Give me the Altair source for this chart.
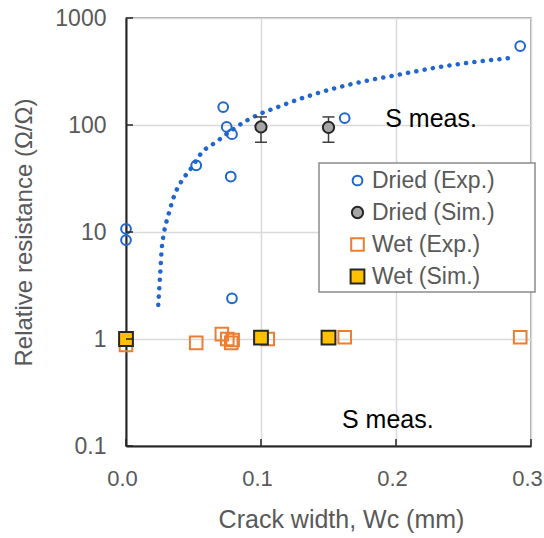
import altair as alt
import pandas as pd

# ---- data ----
series_names = ["Dried (Exp.)", "Dried (Sim.)", "Wet (Exp.)", "Wet (Sim.)"]

dried_exp_x = [0.0, 0.0, 0.052, 0.072, 0.0746, 0.0785, 0.0776, 0.0785, 0.162, 0.292]
dried_exp_y = [10.7, 8.4, 42, 147, 96, 82, 33, 2.4, 116, 547]

dried_sim_x = [0.1, 0.15]
dried_sim_y = [96, 95]
dried_sim_lo = [69, 69]
dried_sim_hi = [119, 119]

wet_exp_x = [0.0, 0.052, 0.071, 0.075, 0.078, 0.079, 0.105, 0.162, 0.292]
wet_exp_y = [0.88, 0.92, 1.11, 1.0, 0.92, 0.98, 1.0, 1.04, 1.04]

wet_sim_x = [0.0, 0.1, 0.15]
wet_sim_y = [1.0, 1.03, 1.03]

trend_x = [0.0239, 0.0252, 0.0264, 0.0281, 0.0314, 0.035, 0.0412, 0.0474, 0.056,
           0.0672, 0.077, 0.0894, 0.0993, 0.1116, 0.136, 0.173, 0.198, 0.235, 0.288]
trend_y = [2.08, 3.82, 6.8, 9.8, 14.4, 20.6, 30, 38, 55,
           70, 87, 110, 127, 146, 188, 251, 289, 353, 427]

note_text = ["S meas.", "S meas."]
note_x = [0.192, 0.160]
note_y = [96, 0.147]

x_ticks = [0.0, 0.1, 0.2, 0.3]
y_ticks = [0.1, 1, 10, 100, 1000]

# ---- tables ----
rows = []
for name, xs, ys in [
    (series_names[0], dried_exp_x, dried_exp_y),
    (series_names[1], dried_sim_x, dried_sim_y),
    (series_names[2], wet_exp_x, wet_exp_y),
    (series_names[3], wet_sim_x, wet_sim_y),
]:
    for xv, yv in zip(xs, ys):
        rows.append({"x": xv, "y": yv, "series": name})
pts = pd.DataFrame(rows)
trend = pd.DataFrame({"x": trend_x, "y": trend_y})
err = pd.DataFrame({"x": dried_sim_x, "lo": dried_sim_lo, "hi": dried_sim_hi})
notes = pd.DataFrame({"x": note_x, "y": note_y, "t": note_text})
xt = pd.DataFrame({"v": x_ticks})
yt = pd.DataFrame({"v": y_ticks})

FONT = "Liberation Sans"
GREY = "#595959"
W, H = 405, 428

xscale = alt.Scale(domain=[0, 0.3], nice=False, zero=False)
yscale = alt.Scale(type="log", domain=[0.1, 1000], nice=False)

xenc = alt.X("x:Q", scale=xscale, axis=alt.Axis(
    values=x_ticks, format=".1f", title="Crack width,  Wc (mm)",
    labelPadding=22, titlePadding=18, labelFlush=False, labelOffset=-4,
    titleX=215, titleAlign="center", titleFontSize=25))
yenc = alt.Y("y:Q", scale=yscale, axis=alt.Axis(
    values=y_ticks, format="~g", title="Relative  resistance (Ω/Ω)",
    labelPadding=20, titlePadding=18, labelFlush=False, labelFontSize=23))

# legend frame (drawn behind the legend entries)
legend_box = alt.Chart(pd.DataFrame({"k": [0]})).mark_rect(
    fill="white", stroke="#8C8C8C", strokeWidth=1.5
).encode(x=alt.value(193), x2=alt.value(409), y=alt.value(145), y2=alt.value(274))

trend_layer = alt.Chart(trend).mark_line(
    color="#1F66D1", strokeWidth=4.5, strokeDash=[0.1, 8.3], strokeCap="round",
    interpolate="monotone"
).encode(x=xenc, y=yenc)

err_rule = alt.Chart(err).mark_rule(color="#404040", strokeWidth=1.5).encode(
    x=alt.X("x:Q", scale=xscale), y=alt.Y("lo:Q", scale=yscale), y2="hi:Q")
err_cap_hi = alt.Chart(err).mark_rule(color="#404040", strokeWidth=1.5, xOffset=-6, x2Offset=6).encode(
    x=alt.X("x:Q", scale=xscale), x2="x:Q", y=alt.Y("hi:Q", scale=yscale))
err_cap_lo = alt.Chart(err).mark_rule(color="#404040", strokeWidth=1.5, xOffset=-6, x2Offset=6).encode(
    x=alt.X("x:Q", scale=xscale), x2="x:Q", y=alt.Y("lo:Q", scale=yscale))

pts_layer = alt.Chart(pts).mark_point(filled=True, opacity=1, strokeWidth=2).encode(
    x=alt.X("x:Q", scale=xscale),
    y=alt.Y("y:Q", scale=yscale),
    shape=alt.Shape("series:N", title=None, sort=series_names,
                    scale=alt.Scale(domain=series_names, range=["circle", "circle", "square", "square"])),
    stroke=alt.Stroke("series:N", title=None, sort=series_names,
                      scale=alt.Scale(domain=series_names, range=["#1F66D1", "#262626", "#ED7D31", "#262626"])),
    fill=alt.Fill("series:N", title=None, sort=series_names,
                  scale=alt.Scale(domain=series_names, range=["transparent", "#A6A6A6", "transparent", "#FFC000"])),
    size=alt.Size("series:N", title=None, sort=series_names,
                  scale=alt.Scale(domain=series_names, range=[95, 190, 120, 300])),
)

note_layer = alt.Chart(notes).mark_text(
    align="left", baseline="alphabetic", fontSize=25, font=FONT, color="black"
).encode(x=alt.X("x:Q", scale=xscale), y=alt.Y("y:Q", scale=yscale), text="t:N")

ytick_layer = alt.Chart(yt).mark_rule(color="#262626", strokeWidth=1.5).encode(
    y=alt.Y("v:Q", scale=yscale), x=alt.value(0), x2=alt.value(7))
xtick_layer = alt.Chart(xt).mark_rule(color="#262626", strokeWidth=1.5).encode(
    x=alt.X("v:Q", scale=xscale), y=alt.value(H), y2=alt.value(H - 7))

chart = alt.layer(
    legend_box, trend_layer, err_rule, err_cap_hi, err_cap_lo, pts_layer, note_layer,
    ytick_layer, xtick_layer
).properties(
    width=W, height=H,
    autosize=alt.AutoSizeParams(type="none"),
    padding={"left": 126, "top": 18, "right": 13, "bottom": 92},
).configure_view(
    stroke="#8C8C8C", strokeWidth=1.5
).configure_axis(
    labelFont=FONT, titleFont=FONT, labelFontSize=22, titleFontSize=24,
    labelColor=GREY, titleColor=GREY, titleFontWeight="normal",
    domainColor="#262626", domainWidth=2, tickSize=0,
    gridColor="#D9D9D9", gridWidth=1.5,
).configure_legend(
    orient="none", legendX=193, legendY=143,
    labelFont=FONT, labelFontSize=23, labelColor=GREY,
    padding=8, rowPadding=8, symbolOffset=19, labelOffset=3, symbolStrokeWidth=2,
    labelLimit=300,
)

chart.save("out.html", embed_options={"renderer": "svg", "actions": False})
